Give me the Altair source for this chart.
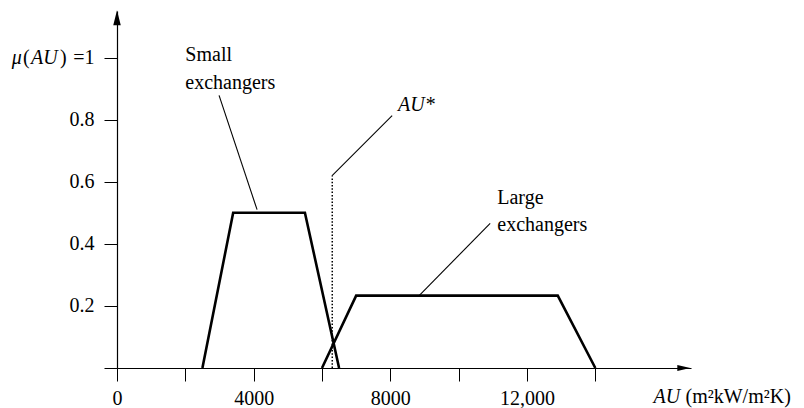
import altair as alt
import pandas as pd

# ---- data ----
small_x = [2500, 3400, 5500, 6500]
small_mu = [0, 0.5, 0.5, 0]
large_x = [6000, 7000, 12900, 14000]
large_mu = [0, 0.233, 0.233, 0]
au_star_x = 6300
au_star_mu = 0.62

x_ticks = [0, 2000, 4000, 6000, 8000, 10000, 12000, 14000]
y_ticks = [0, 0.2, 0.4, 0.6, 0.8, 1.0]

# annotation texts (normal style)
normal_text = ["Small", "exchangers", "Large", "exchangers", "(", ")", "(m²kW/m²K)"]
normal_x = [2000, 2000, 11130, 11130, -2753, -1669, 16640]
normal_y = [1.007, 0.917, 0.547, 0.46, 1.0, 1.0, -0.095]
# annotation texts (italic style)
italic_text = ["AU*", "μ", "AU", "AU"]
italic_x = [8228, -3080, -2518, 15700]
italic_y = [0.846, 1.0, 1.0, -0.095]

# leader lines
lead_x = [2987, 6296, 10922]
lead_y = [0.878, 0.62, 0.466]
lead_x2 = [4100, 8053, 8843]
lead_y2 = [0.51, 0.813, 0.233]

FONT = "'Liberation Serif', 'Times New Roman', 'DejaVu Serif', serif"
FS = 20

xs = alt.Scale(domain=[0, 16800], nice=False, zero=False)
ys = alt.Scale(domain=[0, 1.15], nice=False, zero=False)

curves = pd.DataFrame({
    "x": small_x + large_x,
    "mu": small_mu + large_mu,
    "grp": ["small"] * 4 + ["large"] * 4,
    "ord": list(range(4)) * 2,
})

x_axis = alt.Axis(
    values=x_ticks,
    labelExpr="datum.value % 4000 == 0 ? (datum.value >= 10000 ? format(datum.value, ',') : format(datum.value, 'd')) : ''",
    title=None, grid=False, tickSize=13, tickColor="black", domainColor="black",
    tickWidth=1, domainWidth=1.2, labelFont=FONT, labelFontSize=FS, labelColor="black",
    labelPadding=7, labelFlush=False, labelOverlap=False,
)
y_axis = alt.Axis(
    values=y_ticks,
    labelExpr="datum.value == 0 ? '' : (datum.value == 1 ? '=1' : format(datum.value, '.1f'))",
    title=None, grid=False, tickSize=13, tickColor="black", domainColor="black",
    tickWidth=1, domainWidth=1.2, labelFont=FONT, labelFontSize=FS, labelColor="black",
    labelPadding=10, labelFlush=False, labelOverlap=False,
)

lines = alt.Chart(curves).mark_line(color="black", strokeWidth=2.6, strokeJoin="miter").encode(
    x=alt.X("x:Q", scale=xs, axis=x_axis),
    y=alt.Y("mu:Q", scale=ys, axis=y_axis),
    detail="grp:N",
    order="ord:Q",
)

star = alt.Chart(pd.DataFrame({"x": [au_star_x], "y": [0], "y2": [au_star_mu]})).mark_rule(
    color="black", strokeWidth=1.5, strokeDash=[1.5, 1.8]
).encode(x=alt.X("x:Q", scale=xs), y=alt.Y("y:Q", scale=ys), y2="y2:Q")

leaders = alt.Chart(pd.DataFrame({"x": lead_x, "y": lead_y, "x2": lead_x2, "y2": lead_y2})).mark_rule(
    color="black", strokeWidth=1.1
).encode(x=alt.X("x:Q", scale=xs), y=alt.Y("y:Q", scale=ys), x2="x2:Q", y2="y2:Q")

normal = alt.Chart(pd.DataFrame({"t": normal_text, "x": normal_x, "y": normal_y})).mark_text(
    font=FONT, fontSize=FS, align="left", baseline="middle", color="black"
).encode(x=alt.X("x:Q", scale=xs), y=alt.Y("y:Q", scale=ys), text="t:N")

italic = alt.Chart(pd.DataFrame({"t": italic_text, "x": italic_x, "y": italic_y})).mark_text(
    font=FONT, fontSize=FS, fontStyle="italic", align="left", baseline="middle", color="black"
).encode(x=alt.X("x:Q", scale=xs), y=alt.Y("y:Q", scale=ys), text="t:N")

arrow_up = alt.Chart(pd.DataFrame({"x": [0], "y": [1.128]})).mark_point(
    shape="M0,-1L0.5,1L-0.5,1Z", size=225, filled=True, color="black", opacity=1, strokeWidth=0
).encode(x=alt.X("x:Q", scale=xs), y=alt.Y("y:Q", scale=ys))

arrow_right = alt.Chart(pd.DataFrame({"x": [16589], "y": [0]})).mark_point(
    shape="M1,0L-1,0.45L-1,-0.45Z", size=169, filled=True, color="black", opacity=1, strokeWidth=0
).encode(x=alt.X("x:Q", scale=xs), y=alt.Y("y:Q", scale=ys))

chart = alt.layer(lines, star, leaders, normal, italic, arrow_up, arrow_right).properties(
    width=574, height=357,
    autosize=alt.AutoSizeParams(type="none"),
    padding={"left": 109, "top": 3, "right": 105, "bottom": 40},
    background="white",
).configure_view(stroke=None)

chart.save("out.html", embed_options={"renderer": "svg", "actions": False})
